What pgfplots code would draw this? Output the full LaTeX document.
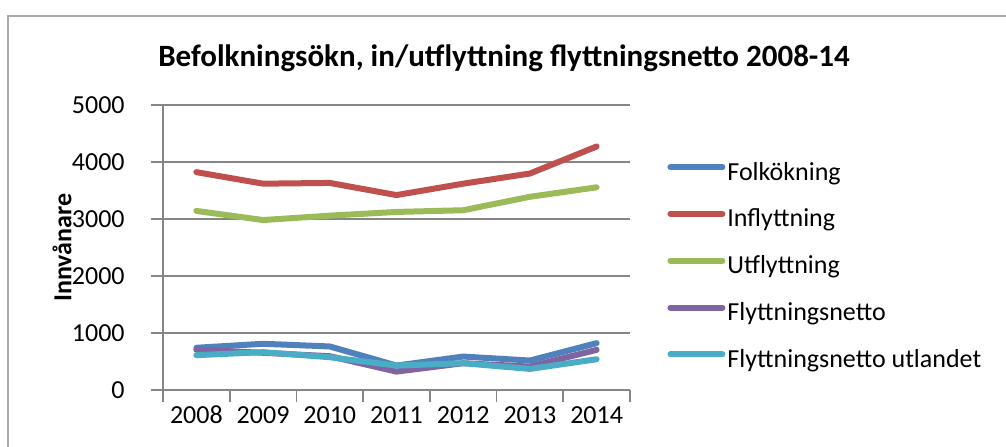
\documentclass[border=0pt]{standalone}
\usepackage{fontspec}
\setmainfont{Carlito}
\usepackage{pgfplots}
\pgfplotsset{compat=1.18}

\definecolor{cfolk}{HTML}{4F81BD}
\definecolor{cinfl}{HTML}{C0504D}
\definecolor{cutfl}{HTML}{9BBB59}
\definecolor{cnetto}{HTML}{8064A2}
\definecolor{cutl}{HTML}{4BACC6}
\definecolor{gridgray}{HTML}{868686}

\begin{document}
\begin{tikzpicture}
\useasboundingbox (0,0) rectangle (503pt,223pt);
% chart frame
\draw[color=gridgray!70, line width=0.8pt] (4pt,-5pt) -- (4pt,215pt) -- (510pt,215pt);
\node[font=\fontsize{15.5}{18}\selectfont\bfseries] at (252pt,194pt)
  {Befolkningsökn, in/utflyttning flyttningsnetto 2008-14};

\begin{axis}[
  at={(81.5pt,28pt)}, anchor=south west,
  scale only axis, width=233.5pt, height=142.5pt,
  xmin=-0.5, xmax=6.5, ymin=0, ymax=5000,
  xtick={0,...,6},
  xticklabels={2008,2009,2010,2011,2012,2013,2014},
  minor xtick={-0.5,0.5,...,6.5},
  ytick={0,1000,...,5000},
  axis x line*=bottom, axis y line*=left,
  axis line style={gridgray, line width=0.8pt, -},
  ymajorgrids, major grid style={gridgray, line width=0.8pt},
  tick align=outside,
  major tick length=6pt, minor tick length=6pt,
  major x tick style={draw=none},
  tick style={gridgray, line width=0.8pt},
  /pgf/number format/assume math mode=true,
  /pgf/number format/1000 sep={},
  scaled y ticks=false,
  tick label style={font=\fontsize{13}{15}\selectfont},
  yticklabel style={inner sep=0pt, anchor=east, xshift=-13pt},
  xticklabel style={inner sep=0pt, anchor=base, yshift=-10.5pt},
  ylabel={Innvånare},
  ylabel style={at={(axis description cs:-0.216,0.5)}, anchor=center,
    font=\fontsize{13}{15}\selectfont\bfseries},
  legend style={draw=none, fill=none, at={(1.0686,0.822)}, anchor=north west,
    font=\fontsize{13}{15}\selectfont, row sep=9.9pt,
    nodes={inner sep=0.5pt, text height=9pt, text depth=3pt}},
  legend cell align=left,
  legend image code/.code={\path[draw=none, fill=none] (0pt,1pt) rectangle (29pt,7pt);
    \draw[#1,overlay] (1pt,3.5pt) -- (27pt,3.5pt);},
  every axis plot/.append style={line width=3pt, line cap=round, line join=round},
]
\addplot[cfolk] coordinates {(0,741) (1,811) (2,764) (3,429) (4,587) (5,517) (6,822)};
\addlegendentry{Folkökning}
\addplot[cinfl] coordinates {(0,3822) (1,3620) (2,3633) (3,3420) (4,3620) (5,3798) (6,4272)};
\addlegendentry{Inflyttning}
\addplot[cutfl] coordinates {(0,3142) (1,2982) (2,3059) (3,3124) (4,3154) (5,3390) (6,3556)};
\addlegendentry{Utflyttning}
\addplot[cnetto] coordinates {(0,705) (1,653) (2,593) (3,323) (4,470) (5,411) (6,705)};
\addlegendentry{Flyttningsnetto}
\addplot[cutl] coordinates {(0,611) (1,664) (2,575) (3,429) (4,470) (5,370) (6,540)};
\addlegendentry{Flyttningsnetto utlandet}
\end{axis}
\end{tikzpicture}
\end{document}
